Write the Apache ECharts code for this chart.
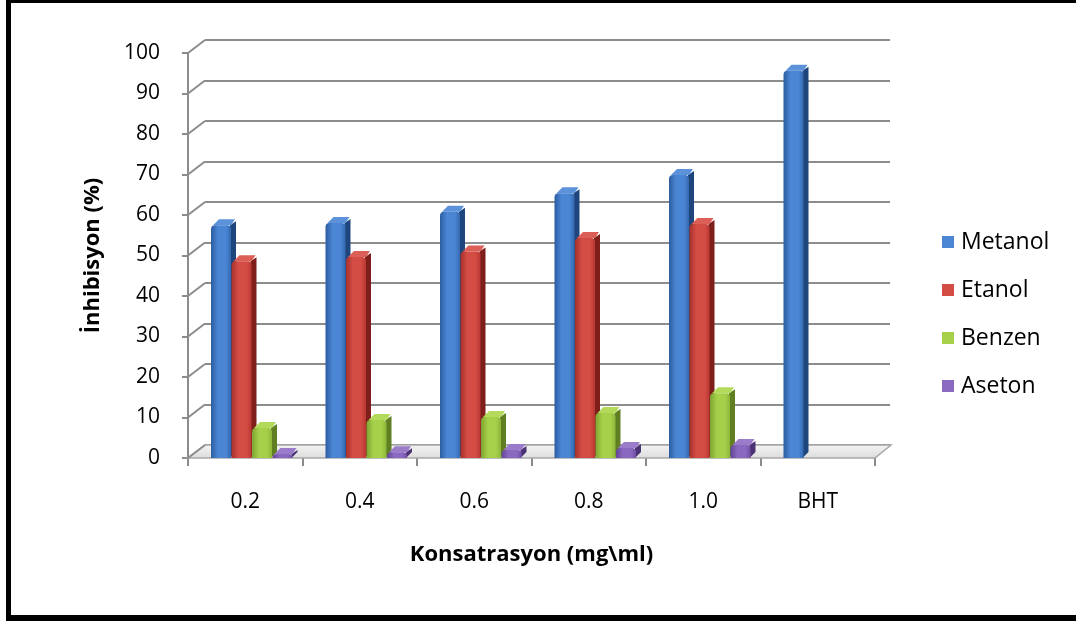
<!DOCTYPE html>
<html>
<head>
<meta charset="utf-8">
<script src="https://cdn.jsdelivr.net/npm/echarts@6/dist/echarts.min.js"></script>
<style>
  html, body { margin: 0; padding: 0; background: #ffffff; }
  #chart { width: 1076px; height: 621px; }
</style>
</head>
<body>
<div id="chart"></div>
<script>
// Konsantrasyona göre inhibisyon (%) – dört çözücü ekstraktı ve BHT
const categories = ['0.2', '0.4', '0.6', '0.8', '1.0', 'BHT'];
const metanol = [57.5, 58, 60.8, 65.4, 69.9, 95.6];
const etanol  = [48.6, 49.6, 51, 54.3, 57.8, null];
const benzen  = [7.4, 9.4, 10.1, 11.1, 16, null];
const aseton  = [1, 1.4, 2, 2.5, 3.2, null];
const seriesNames = ['Metanol', 'Etanol', 'Benzen', 'Aseton'];
const yTicks = [0, 10, 20, 30, 40, 50, 60, 70, 80, 90, 100];

const FONT = '"Open Sans", "Noto Sans", sans-serif';

// face colours: [edge, highlight, right edge, side, top]
const palettes = [
  ['#2b5c9f', '#4a86d4', '#3468b0', '#1f467c', '#5b92da'],
  ['#a6302b', '#d44d45', '#b83832', '#7f1f1c', '#dc5f57'],
  ['#7ea532', '#a6d04a', '#8cb53a', '#5f7f22', '#b4da5c'],
  ['#644497', '#8a6ac0', '#7050a6', '#4b3275', '#9a7cca']
];

// depth of the perspective "box"
const DEPTH_X = 17, DEPTH_Y = -13;
// bar geometry inside a category band
const BAR_W = 20, BAR_STEP = 20.5, BAR_START = 23, SIDE_X = 5, SIDE_Y = -6;

function barRenderer(sIdx) {
  const pal = palettes[sIdx];
  return function (params, api) {
    const i = api.value(0), v = api.value(1);
    const cs = params.coordSys;
    const band = cs.width / categories.length;
    const xL = cs.x + i * band + BAR_START + sIdx * BAR_STEP;
    const xR = xL + BAR_W;
    const yTop = api.coord([i, v])[1];
    const yBase = api.coord([i, 0])[1];
    return {
      type: 'group',
      children: [
        { // right side face
          type: 'polygon',
          shape: { points: [[xR - 1, yTop], [xR + SIDE_X, yTop + SIDE_Y + 2], [xR + SIDE_X, yBase + SIDE_Y], [xR - 1, yBase]] },
          style: { fill: pal[3] }
        },
        { // top face
          type: 'polygon',
          shape: { points: [[xL + 2, yTop], [xL + SIDE_X + 3, yTop + SIDE_Y], [xR + SIDE_X - 1, yTop + SIDE_Y], [xR, yTop]] },
          style: { fill: pal[4] }
        },
        { // front face
          type: 'rect',
          shape: { x: xL, y: yTop, width: BAR_W, height: Math.max(yBase - yTop, 0.5), r: [4, 4, 0, 0] },
          style: {
            fill: new echarts.graphic.LinearGradient(0, 0, 1, 0, [
              { offset: 0, color: pal[0] },
              { offset: 0.35, color: pal[1] },
              { offset: 0.75, color: pal[1] },
              { offset: 1, color: pal[2] }
            ])
          }
        }
      ]
    };
  };
}

// floor and the slanted links between the front axis and the back wall
function frameRenderer(params, api) {
  const cs = params.coordSys;
  const x0 = cs.x, x1 = cs.x + cs.width;
  const yb = api.coord([0, 0])[1];
  const children = [{
    type: 'polygon',
    shape: { points: [[x0, yb], [x1, yb], [x1 + 16, yb + DEPTH_Y], [x0 + DEPTH_X, yb + DEPTH_Y]] },
    style: {
      fill: new echarts.graphic.LinearGradient(0, 0, 0, 1, [
        { offset: 0, color: '#f4f4f4' },
        { offset: 1, color: '#dcdcdc' }
      ]),
      stroke: '#a8a8a8', lineWidth: 1.5
    }
  }];
  yTicks.forEach(function (t) {
    const y = api.coord([0, t])[1];
    children.push({
      type: 'line',
      shape: { x1: x0, y1: y, x2: x0 + DEPTH_X, y2: y + DEPTH_Y },
      style: { stroke: '#8c8c8c', lineWidth: 2 }
    });
  });
  return { type: 'group', children: children };
}

function seriesData(vals) {
  return vals.map(function (v, i) { return v == null ? null : [i, v]; })
             .filter(function (d) { return d !== null; });
}

const valueSets = [metanol, etanol, benzen, aseton];

const chart = echarts.init(document.getElementById('chart'), null, { renderer: 'canvas' });

const series = [{
  type: 'custom',
  name: '_frame',
  xAxisIndex: 0, yAxisIndex: 0,
  renderItem: frameRenderer,
  data: [[0, 0]],
  z: 1,
  silent: true
}];
valueSets.forEach(function (vals, k) {
  series.push({
    type: 'custom',
    name: seriesNames[k],
    xAxisIndex: 0, yAxisIndex: 0,
    renderItem: barRenderer(k),
    encode: { x: 0, y: 1 },
    itemStyle: { color: palettes[k][1] },
    data: seriesData(vals),
    z: 3
  });
});

chart.setOption({
  animation: false,
  backgroundColor: '#ffffff',
  textStyle: { fontFamily: FONT },
  grid: [
    { left: 188, right: 201, top: 53, bottom: 163 },   // front plane (axes)
    { left: 205, right: 186, top: 40, bottom: 176 }    // back wall (gridlines)
  ],
  xAxis: [{
    type: 'category', gridIndex: 0, data: categories,
    boundaryGap: true,
    axisLine: { show: false },
    axisTick: { show: true, length: 8, interval: 0, lineStyle: { color: '#8c8c8c', width: 2 } },
    axisLabel: { interval: 0, margin: 34, fontSize: 21, color: '#000', fontFamily: FONT },
    name: 'Konsatrasyon (mg\\ml)',
    nameLocation: 'middle', nameGap: 86,
    nameTextStyle: { fontSize: 22, fontWeight: 'bold', color: '#000', fontFamily: FONT }
  }, {
    type: 'category', gridIndex: 1, data: categories, show: false
  }],
  yAxis: [{
    type: 'value', gridIndex: 0, min: 0, max: 100, interval: 10,
    axisLine: { show: true, lineStyle: { color: '#8c8c8c', width: 2 } },
    axisTick: { show: true, length: 6, lineStyle: { color: '#8c8c8c', width: 2 } },
    splitLine: { show: false },
    axisLabel: { margin: 28, fontSize: 21, color: '#000', fontFamily: FONT },
    name: 'İnhibisyon (%)',
    nameLocation: 'middle', nameGap: 84, nameRotate: 90,
    nameTextStyle: { fontSize: 22, fontWeight: 'bold', color: '#000', fontFamily: FONT }
  }, {
    type: 'value', gridIndex: 1, min: 0, max: 100, interval: 10,
    axisLine: { show: false }, axisTick: { show: false }, axisLabel: { show: false },
    splitLine: { show: true, lineStyle: { color: '#8c8c8c', width: 2 } }
  }],
  legend: {
    data: seriesNames,
    orient: 'vertical',
    left: 937, top: 225,
    itemWidth: 12, itemHeight: 12,
    itemGap: 24,
    icon: 'rect',
    textStyle: { fontSize: 23, color: '#000', fontFamily: FONT, lineHeight: 24, padding: [0, 0, 0, 2] }
  },
  graphic: [
    { type: 'rect', shape: { x: 6, y: 0, width: 5, height: 621 }, style: { fill: '#000' } },
    { type: 'rect', shape: { x: 6, y: 0, width: 1070, height: 3 }, style: { fill: '#000' } },
    { type: 'rect', shape: { x: 6, y: 615, width: 1070, height: 6 }, style: { fill: '#000' } }
  ],
  series: series
});
</script>
</body>
</html>
